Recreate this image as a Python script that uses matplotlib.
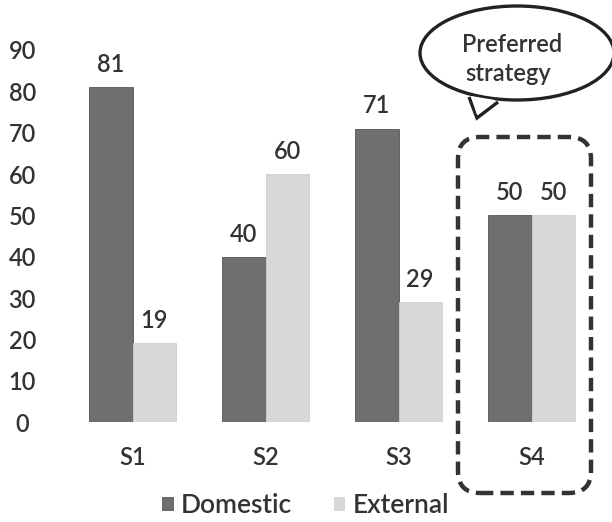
import matplotlib.pyplot as plt
from matplotlib.patches import FancyBboxPatch, Ellipse, Polygon
import numpy as np

categories = ['S1', 'S2', 'S3', 'S4']
domestic = [81, 40, 71, 50]
external = [19, 60, 29, 50]
yticks = [0, 10, 20, 30, 40, 50, 60, 70, 80, 90]

plt.rcParams['font.family'] = ['Lato', 'DejaVu Sans']
plt.rcParams['font.weight'] = 'semibold'
text_color = '#333333'
dark = '#6f6f6f'
light = '#d8d8d8'

W, H = 612, 522
fig = plt.figure(figsize=(W / 100, H / 100), dpi=100)

# axes placed in pixel terms: x from 66 to 598, y from 422 (0) up to 50 (90)
ax = fig.add_axes([66 / W, (H - 422) / H, 532 / W, 372 / H])
x = np.arange(len(categories))
bw = 0.325
b1 = ax.bar(x - bw / 2, domestic, bw, color=dark, edgecolor='#555555', linewidth=0.6, label='Domestic')
b2 = ax.bar(x + bw / 2, external, bw, color=light, edgecolor='#d0d0d0', linewidth=0.6, label='External')

for bars, vals in ((b1, domestic), (b2, external)):
    for rect, v in zip(bars, vals):
        ax.annotate(str(v), (rect.get_x() + rect.get_width() / 2, v),
                    xytext=(0, 8), textcoords='offset points',
                    ha='center', va='bottom', fontsize=17, color=text_color)

ax.set_xlim(-0.5, 3.5)
ax.set_ylim(0, 90)
ax.set_yticks(yticks)
ax.set_xticks(x)
ax.set_xticklabels(categories)
ax.tick_params(axis='both', length=0, labelsize=17, labelcolor=text_color)
ax.tick_params(axis='y', pad=31.5)
ax.tick_params(axis='x', pad=17)
for lab in ax.get_yticklabels():
    lab.set_horizontalalignment('center')
for s in ax.spines.values():
    s.set_visible(False)

# legend centred just above the bottom edge
ax.legend(loc='center', bbox_to_anchor=(0.45, -0.225), ncol=2, frameon=False,
          fontsize=19, handlelength=0.4, handleheight=0.4, handletextpad=0.3,
          columnspacing=1.6, labelcolor=text_color, borderpad=0.1)


def px(xp, yp):
    return xp / 100, (H - yp) / 100


tr = fig.dpi_scale_trans

# dashed highlight round S4
x0, y0 = px(458, 493)
box = FancyBboxPatch((x0, y0), (591 - 458) / 100, (493 - 137) / 100,
                     boxstyle='round,pad=0,rounding_size=0.22', transform=tr,
                     fill=False, edgecolor='#333333', linewidth=3.2,
                     linestyle=(0, (3, 1.6)))
fig.add_artist(box)

# speech bubble
ell = Ellipse(px(517, 53), 194 / 100, 94 / 100, transform=tr,
              facecolor='white', edgecolor='#222222', linewidth=2.4)
fig.add_artist(ell)
tail = Polygon([px(469, 97), px(477, 118), px(498, 102)], closed=False,
               transform=tr, facecolor='white', edgecolor='#222222', linewidth=2.4)
fig.add_artist(tail)
cover = Polygon([px(471, 96), px(477, 115), px(495, 100)], closed=True,
                transform=tr, facecolor='white', edgecolor='none')
fig.add_artist(cover)
fig.text(*px(512, 44), 'Preferred', transform=tr, ha='center', va='center',
         fontsize=17, color=text_color)
fig.text(*px(508, 74), 'strategy', transform=tr, ha='center', va='center',
         fontsize=17, color=text_color)

fig.savefig('out.png', dpi=100)
